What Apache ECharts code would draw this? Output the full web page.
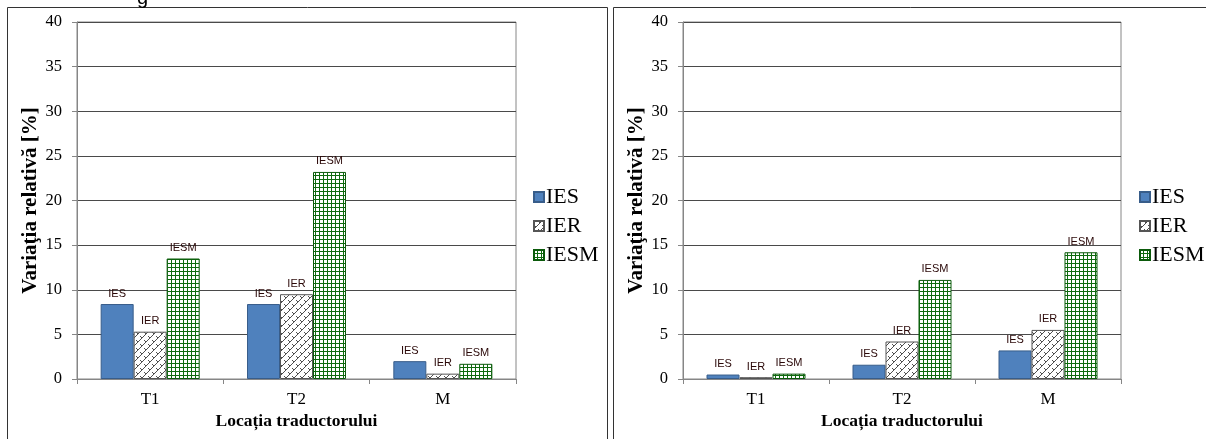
<!DOCTYPE html>
<html>
<head>
<meta charset="utf-8">
<script src="https://cdn.jsdelivr.net/npm/echarts@6/dist/echarts.min.js"></script>
<style>
html,body{margin:0;padding:0;background:#fff;}
#chart{width:1206px;height:439px;}
</style>
</head>
<body>
<div id="chart"></div>
<script>
// ---- data ----
var categories = ['T1', 'T2', 'M'];
var seriesNames = ['IES', 'IER', 'IESM'];
var leftIES  = [8.4, 8.4, 2.0];
var leftIER  = [5.3, 9.5, 0.6];
var leftIESM = [13.5, 23.2, 1.7];
var rightIES  = [0.5, 1.6, 3.2];
var rightIER  = [0.2, 4.2, 5.5];
var rightIESM = [0.6, 11.1, 14.2];
var yTicks = [0, 5, 10, 15, 20, 25, 30, 35, 40];
var yName = 'Variaţia relativă [%]';
var xName = 'Locația traductorului';

// ---- patterns ----
function makeIER() {
  var c = document.createElement('canvas');
  c.width = 8; c.height = 8;
  var g = c.getContext('2d');
  g.fillStyle = '#fff'; g.fillRect(0, 0, 8, 8);
  g.strokeStyle = '#222'; g.lineWidth = 0.8;
  g.beginPath();
  g.moveTo(0, 8); g.lineTo(8, 0);
  g.moveTo(-4, 4); g.lineTo(4, -4);
  g.moveTo(4, 12); g.lineTo(12, 4);
  g.moveTo(0, 4); g.lineTo(2, 6);
  g.moveTo(4, 0); g.lineTo(6, 2);
  g.stroke();
  return c;
}
function makeIESM() {
  var c = document.createElement('canvas');
  c.width = 4; c.height = 4;
  var g = c.getContext('2d');
  g.fillStyle = '#fff'; g.fillRect(0, 0, 4, 4);
  g.fillStyle = '#0e6a0e';
  g.fillRect(3, 0, 1, 4);
  g.fillRect(0, 3, 4, 1);
  return c;
}
var ierPattern = { image: makeIER(), repeat: 'repeat' };
var iesmPattern = { image: makeIESM(), repeat: 'repeat' };

var styles = {
  IES: { color: '#4f81bd', borderColor: '#385d8a', borderWidth: 1 },
  IER: { color: ierPattern, borderColor: '#555', borderWidth: 1 },
  IESM: { color: iesmPattern, borderColor: '#0b5a0b', borderWidth: 1 }
};

var serif = '"Liberation Serif", "DejaVu Serif", serif';

function makeSeries(name, data, idx) {
  return {
    type: 'bar',
    name: name,
    xAxisIndex: idx,
    yAxisIndex: idx,
    data: data,
    barWidth: 33,
    barGap: '0%',
    itemStyle: styles[name],
    label: {
      show: true,
      position: 'top',
      distance: 5,
      formatter: name,
      fontFamily: '"Liberation Sans", Arial, sans-serif',
      fontSize: 11,
      color: '#2a0808'
    }
  };
}

function xAxis(gridIndex) {
  return {
    type: 'category',
    gridIndex: gridIndex,
    data: categories,
    axisLine: { lineStyle: { color: '#868686', width: 1 } },
    axisTick: { show: true, length: 5, lineStyle: { color: '#868686' } },
    axisLabel: { fontFamily: serif, fontSize: 17, color: '#000', margin: 12 },
    name: xName,
    nameLocation: 'middle',
    nameGap: 33,
    nameTextStyle: { fontFamily: serif, fontSize: 17.5, fontWeight: 'bold', color: '#000' }
  };
}
function yAxis(gridIndex) {
  return {
    type: 'value',
    gridIndex: gridIndex,
    min: yTicks[0],
    max: yTicks[yTicks.length - 1],
    interval: yTicks[1] - yTicks[0],
    axisLine: { show: true, lineStyle: { color: '#868686', width: 1 } },
    axisTick: { show: true, length: 5, lineStyle: { color: '#868686' } },
    axisLabel: { fontFamily: serif, fontSize: 16.5, color: '#000', margin: 15 },
    splitLine: { show: true, lineStyle: { color: '#4a4a4a', width: 1 } },
    name: yName,
    nameLocation: 'middle',
    nameGap: 36,
    nameRotate: 90,
    nameTextStyle: { fontFamily: serif, fontSize: 21, fontWeight: 'bold', color: '#000' }
  };
}

function legend(left) {
  return {
    data: seriesNames,
    orient: 'vertical',
    left: left,
    top: 186,
    padding: 0,
    itemWidth: 10,
    itemHeight: 10,
    itemGap: 7,
    icon: 'rect',
    textStyle: { fontFamily: serif, fontSize: 22, color: '#000', padding: [0, 0, 0, -3] },
    selectedMode: false
  };
}

var chart = echarts.init(document.getElementById('chart'), null, { renderer: 'canvas' });
chart.setOption({
  backgroundColor: '#fff',
  animation: false,
  grid: [
    { left: 77, top: 22, width: 439, height: 357, show: true, borderColor: '#868686', borderWidth: 1, backgroundColor: 'transparent' },
    { left: 683, top: 22, width: 438, height: 357, show: true, borderColor: '#868686', borderWidth: 1, backgroundColor: 'transparent' }
  ],
  legend: [legend(533), legend(1139)],
  xAxis: [xAxis(0), xAxis(1)],
  yAxis: [yAxis(0), yAxis(1)],
  series: [
    makeSeries('IES', leftIES, 0),
    makeSeries('IER', leftIER, 0),
    makeSeries('IESM', leftIESM, 0),
    makeSeries('IES', rightIES, 1),
    makeSeries('IER', rightIER, 1),
    makeSeries('IESM', rightIESM, 1)
  ],
  graphic: [
    { type: 'rect', shape: { x: 7.5, y: 7.5, width: 600, height: 450 }, style: { fill: 'none', stroke: '#333', lineWidth: 1 }, silent: true },
    { type: 'rect', shape: { x: 613.5, y: 7.5, width: 620, height: 450 }, style: { fill: 'none', stroke: '#333', lineWidth: 1 }, silent: true },
    { type: 'text', left: 137, top: -12, style: { text: 'g', font: '20px "Liberation Sans", Arial, sans-serif', fill: '#000' }, silent: true }
  ]
});
</script>
</body>
</html>
